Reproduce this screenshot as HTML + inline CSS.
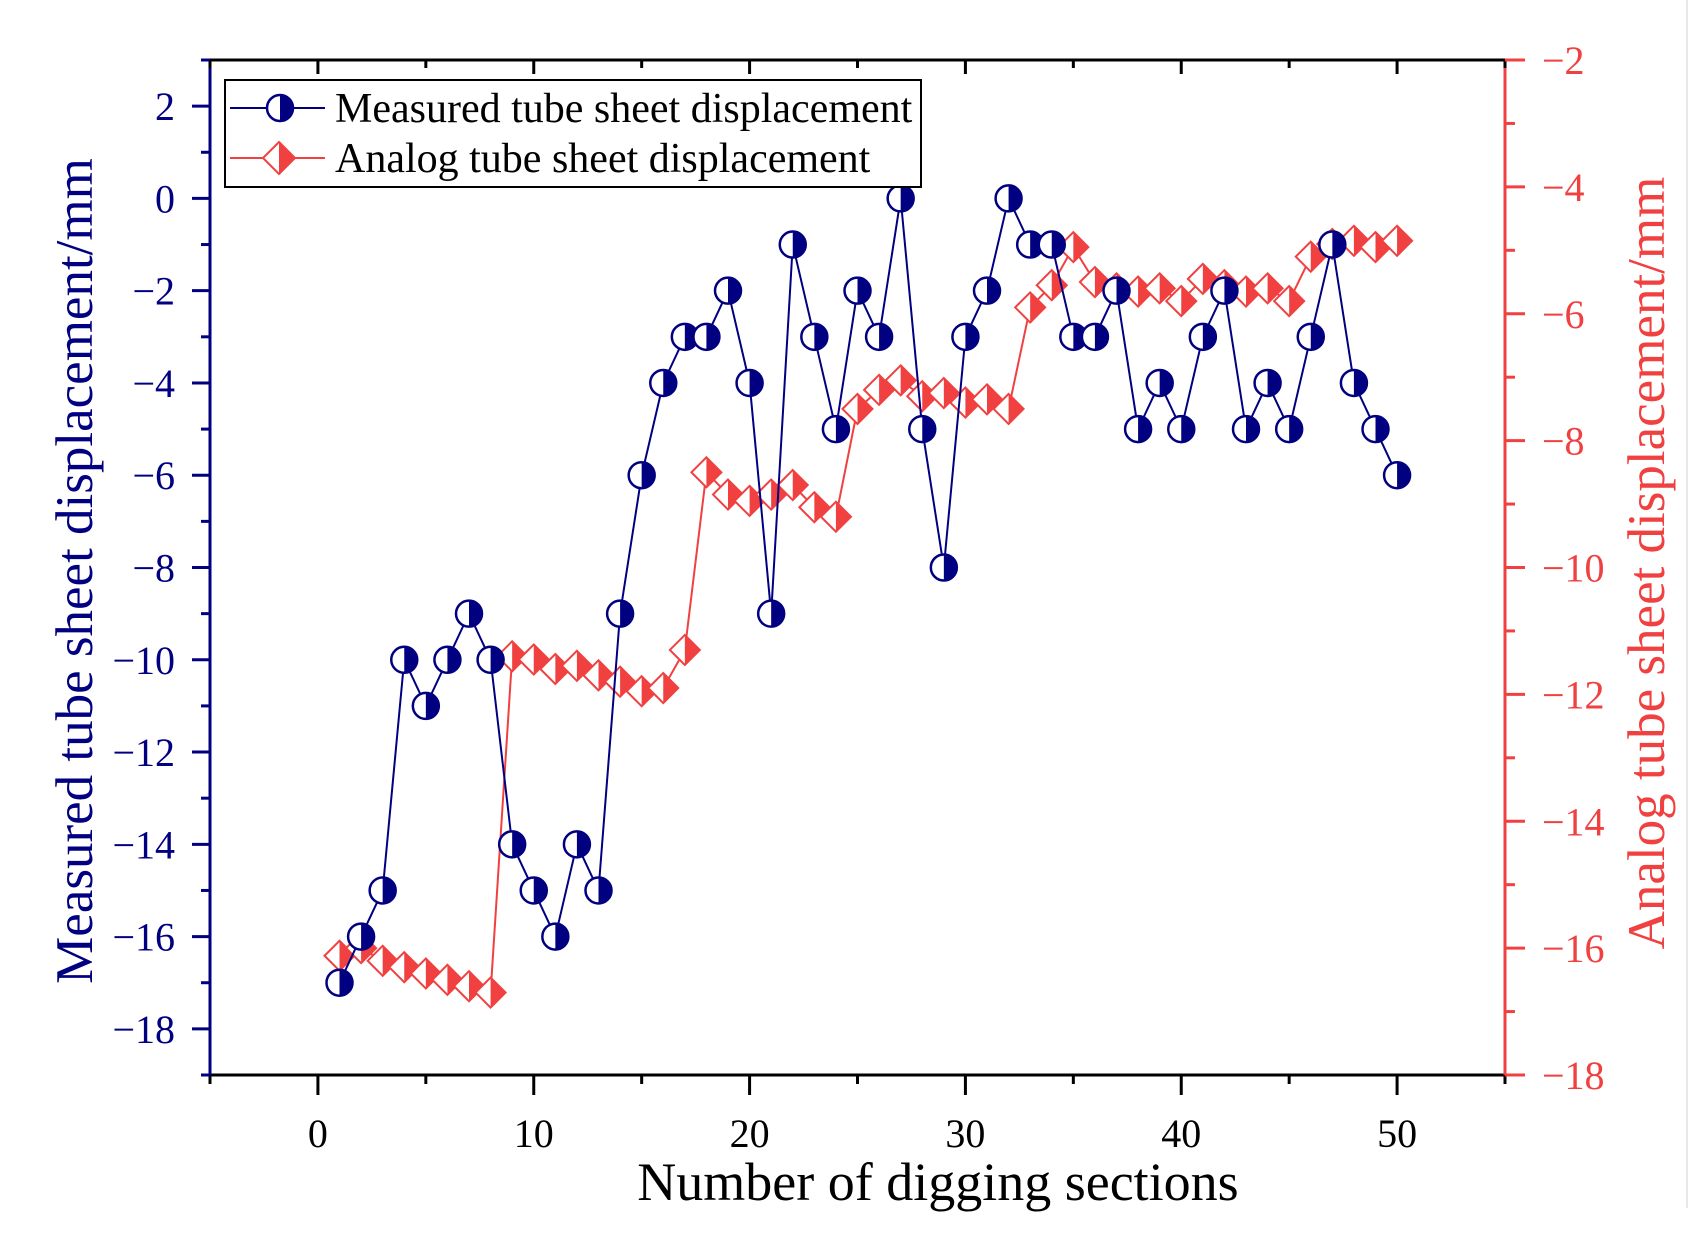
<!DOCTYPE html>
<html><head><meta charset="utf-8"><style>
body{margin:0;background:#fff;}
svg{display:block;font-family:"Liberation Serif",serif;}
</style></head><body>
<svg id="chart" width="1704" height="1236" viewBox="0 0 1704 1236" xmlns="http://www.w3.org/2000/svg"></svg>
<script>
const sections = [];
for (let i = 1; i <= 50; i++) sections.push(i);
const measured = [-17,-16,-15,-10,-11,-10,-9,-10,-14,-15,-16,-14,-15,-9,-6,-4,-3,-3,-2,-4,-9,-1,-3,-5,-2,-3,0,-5,-8,-3,-2,0,-1,-1,-3,-3,-2,-5,-4,-5,-3,-2,-5,-4,-5,-3,-1,-4,-5,-6];
const analog = [-16.12,-16.0,-16.2,-16.3,-16.4,-16.5,-16.6,-16.7,-11.4,-11.45,-11.6,-11.55,-11.7,-11.8,-11.95,-11.9,-11.3,-8.5,-8.85,-8.95,-8.85,-8.7,-9.05,-9.2,-7.5,-7.2,-7.05,-7.3,-7.25,-7.4,-7.35,-7.5,-5.9,-5.55,-4.95,-5.5,-5.6,-5.65,-5.6,-5.8,-5.45,-5.55,-5.65,-5.6,-5.8,-5.1,-4.9,-4.85,-4.95,-4.85];
const xTicks = [0,10,20,30,40,50];
const yLeftTicks = [2,0,-2,-4,-6,-8,-10,-12,-14,-16,-18];
const yRightTicks = [-2,-4,-6,-8,-10,-12,-14,-16,-18];

const L=210,R=1505,T=60,B=1075;
const NAVY="#000080",RED="#f04040";
const xS=v=>L+(v+5)/60*(R-L);
const yL=v=>T+(3-v)/22*(B-T);
const yR=v=>T+(-2-v)/16*(B-T);
const svg=document.getElementById('chart');
const NS="http://www.w3.org/2000/svg";
function mk(tag,attrs,parent){const e=document.createElementNS(NS,tag);for(const k in attrs)e.setAttribute(k,attrs[k]);(parent||svg).appendChild(e);return e;}
function txt(x,y,s,attrs,parent){const t=mk('text',Object.assign({x:x,y:y},attrs),parent);t.textContent=s;return t;}

mk('line',{x1:1687,y1:0,x2:1687,y2:1208,stroke:'#e8e8e8','stroke-width':2});

let a;
a=mk('line',{x1:L,y1:T,x2:R,y2:T,stroke:'#000','stroke-width':3});

a=mk('line',{x1:L,y1:B,x2:R,y2:B,stroke:'#000','stroke-width':3});

a=mk('line',{x1:L,y1:T,x2:L,y2:B,stroke:NAVY,'stroke-width':3});

a=mk('line',{x1:R,y1:T,x2:R,y2:B,stroke:RED,'stroke-width':3});


for(let v=-5;v<=55;v+=5){
  const x=xS(v),major=(v%10===0);
  mk('line',{x1:x,y1:B,x2:x,y2:B+(major?20:9),stroke:'#000','stroke-width':3});
  mk('line',{x1:x,y1:T,x2:x,y2:T+(major?14:8),stroke:'#000','stroke-width':3});
}
xTicks.forEach(v=>{const t=txt(xS(v),1147,String(v),{'font-size':40,'text-anchor':'middle',fill:'#000'});
});
for(let v=-19;v<=3;v++){
  const y=yL(v),major=(v%2===0);
  mk('line',{x1:L,y1:y,x2:L-(major?18:9),y2:y,stroke:NAVY,'stroke-width':3});
}
yLeftTicks.forEach(v=>{const t=txt(175,yL(v)+14,String(v).replace('-','\u2212'),{'font-size':40,'text-anchor':'end',fill:NAVY});
});
for(let v=-18;v<=-2;v++){
  const y=yR(v),major=(v%2===0);
  mk('line',{x1:R,y1:y,x2:R+(major?20:10),y2:y,stroke:RED,'stroke-width':3});
}
yRightTicks.forEach(v=>{const t=txt(1542,yR(v)+14,String(v).replace('-','\u2212'),{'font-size':40,'text-anchor':'start',fill:RED});
});

let t=txt(938,1200,'Number of digging sections',{'font-size':54,'text-anchor':'middle',fill:'#000'});

t=txt(0,0,'Measured tube sheet displacement/mm',{'font-size':53,'text-anchor':'middle',fill:NAVY,transform:'translate(92,571) rotate(-90)'});

t=txt(0,0,'Analog tube sheet displacement/mm',{'font-size':53,'text-anchor':'middle',fill:RED,transform:'translate(1664,563) rotate(-90)'});


function circleMarker(g,x,y,r){
  mk('circle',{cx:x,cy:y,r:r,fill:'#fff',stroke:NAVY,'stroke-width':2.5},g);
  mk('path',{d:`M${x},${y-r} A${r},${r} 0 0 1 ${x},${y+r} Z`,fill:NAVY},g);
}
function diamondMarker(g,x,y,r){
  mk('polygon',{points:`${x},${y-r} ${x+r},${y} ${x},${y+r} ${x-r},${y}`,fill:'#fff',stroke:RED,'stroke-width':2},g);
  mk('polygon',{points:`${x},${y-r} ${x+r},${y} ${x},${y+r}`,fill:RED},g);
}

const ga=mk('g',{});

mk('polyline',{points:sections.map((s,i)=>xS(s)+','+yR(analog[i])).join(' '),fill:'none',stroke:RED,'stroke-width':2},ga);
sections.forEach((s,i)=>{const g=mk('g',{},ga);

diamondMarker(g,xS(s),yR(analog[i]),15);});

const gm=mk('g',{});

mk('polyline',{points:sections.map((s,i)=>xS(s)+','+yL(measured[i])).join(' '),fill:'none',stroke:NAVY,'stroke-width':2},gm);
sections.forEach((s,i)=>{const g=mk('g',{},gm);

circleMarker(g,xS(s),yL(measured[i]),13);});

const lg=mk('g',{});

mk('rect',{x:225,y:80,width:696,height:107,fill:'#fff',stroke:'#000','stroke-width':2},lg);
const e1=mk('g',{},lg);

mk('line',{x1:230,y1:108,x2:325,y2:108,stroke:NAVY,'stroke-width':2},e1);
circleMarker(e1,280,108,13);
txt(335,122,'Measured tube sheet displacement',{'font-size':42,fill:'#000'},e1);
const e2=mk('g',{},lg);

mk('line',{x1:230,y1:158,x2:325,y2:158,stroke:RED,'stroke-width':2},e2);
diamondMarker(e2,279,158,16);
txt(335,172,'Analog tube sheet displacement',{'font-size':42,fill:'#000'},e2);
</script>
</body></html>
